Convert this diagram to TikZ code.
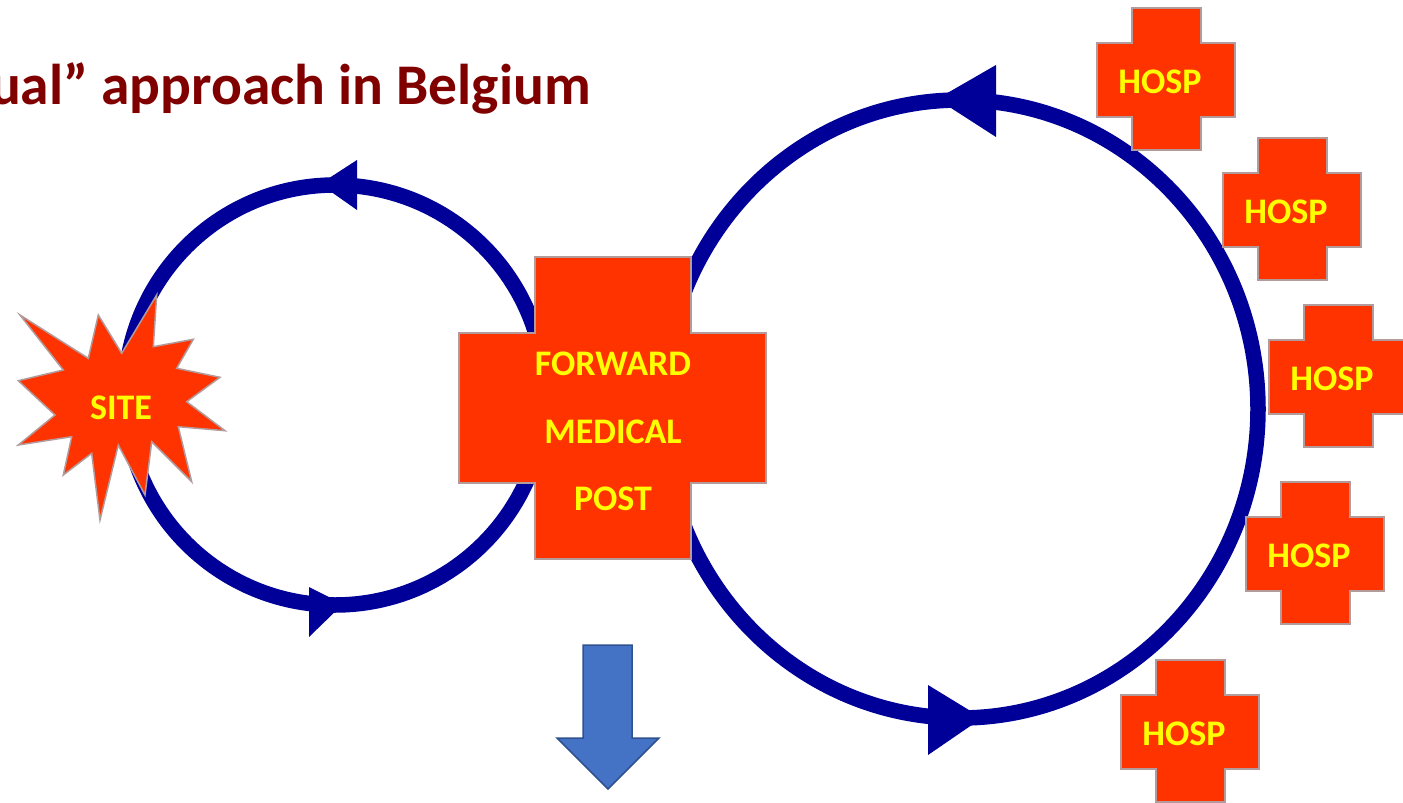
\documentclass[tikz,border=0pt]{standalone}
\usepackage{fontspec}
\setmainfont{Carlito}
\definecolor{crossred}{RGB}{255,51,0}
\definecolor{edgegray}{RGB}{180,155,155}
\definecolor{ringblue}{RGB}{0,0,153}
\definecolor{titlered}{RGB}{128,0,0}
\definecolor{arrowblue}{RGB}{68,114,196}
\definecolor{arrowedge}{RGB}{47,82,143}
\definecolor{txtyellow}{RGB}{255,255,0}
\newcommand\hospcross[3]{%
  \path[redshape] (#1+35,#2) -- (#1+104,#2) -- (#1+104,#2+35) -- (#1+138,#2+35)
    -- (#1+138,#2+109) -- (#1+104,#2+109) -- (#1+104,#2+142) -- (#1+35,#2+142)
    -- (#1+35,#2+109) -- (#1,#2+109) -- (#1,#2+35) -- (#1+35,#2+35) -- cycle;
  \node[lbl, anchor=base] (#3) at (#1+63,#2+85) {HOSP};}
\begin{document}
\begin{tikzpicture}[x=1pt,y=-1pt,
  ring/.style={draw=ringblue, line width=15.5pt},
  head/.style={fill=ringblue},
  redshape/.style={fill=crossred, draw=edgegray, line width=1.5pt, line join=miter},
  lbl/.style={text=txtyellow, font=\fontsize{36}{36}\selectfont\bfseries, inner sep=0pt},
]
\useasboundingbox (0,0) rectangle (1403,803);
\fill[white] (0,0) rectangle (1403,803);

% title
\node[anchor=base east, inner sep=0pt, text=titlered,
      font=\fontsize{57.5}{57.5}\selectfont\bfseries] (title) at (591,104) {ual” approach in Belgium};

% rings
\draw[ring] (335,395) circle[radius=210];
\draw[ring] (960,409) ellipse[x radius=298, y radius=309];

% arrowheads
\fill[head] (357,160) -- (357,210) -- (320,184) -- cycle;
\fill[head] (309,587) -- (309,637) -- (343,604) -- cycle;
\fill[head] (996,65) -- (996,137) -- (937,99) -- cycle;
\fill[head] (928,685) -- (928,755) -- (982,718) -- cycle;

% site star
\path[redshape] (20,315) -- (88.3,358.3) -- (98.3,315) -- (121.7,353.3) -- (156.7,295)
  -- (153.3,346.7) -- (193.3,339.3) -- (176.7,368.3) -- (220,377.3) -- (186.7,401.7)
  -- (225,430.7) -- (178.3,426.7) -- (191.7,481.7) -- (151.7,441.7) -- (145,495)
  -- (118.3,445) -- (100,520) -- (91.7,453.3) -- (63.3,475) -- (71.7,436.7)
  -- (18.3,445) -- (55,415) -- (18.3,380.7) -- (63.3,370) -- cycle;
\node[lbl, anchor=base] (site) at (121,419) {SITE};

% forward medical post
\path[redshape] (535,257) -- (691,257) -- (691,333) -- (766,333) -- (766,483)
  -- (691,483) -- (691,559) -- (535,559) -- (535,483) -- (459,483) -- (459,333)
  -- (535,333) -- cycle;
\node[lbl, anchor=base] (fmp1) at (613,375) {FORWARD};
\node[lbl, anchor=base] (fmp2) at (613,443) {MEDICAL};
\node[lbl, anchor=base] (fmp3) at (613,510) {POST};

% hospitals
\hospcross{1097}{8}{h1}
\hospcross{1223}{138}{h2}
\hospcross{1269}{305}{h3}
\hospcross{1246}{482}{h4}
\hospcross{1121}{660}{h5}

% down arrow
\path[fill=arrowblue, draw=arrowedge, line width=1.5pt, line join=miter]
  (583,645) -- (632,645) -- (632,738) -- (659,738) -- (608,789) -- (557,738)
  -- (583,738) -- cycle;
\end{tikzpicture}
\end{document}
